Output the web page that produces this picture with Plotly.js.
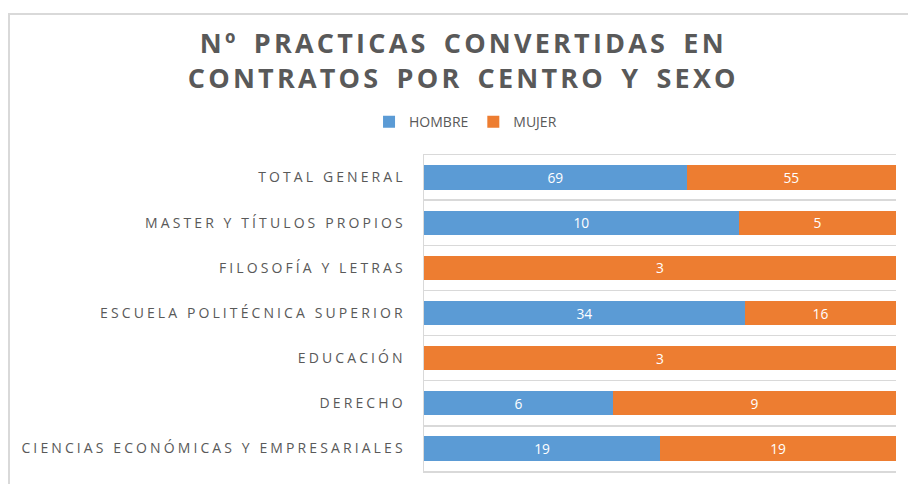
<!DOCTYPE html>
<html>
<head>
<meta charset="utf-8">
<script src="https://cdn.plot.ly/plotly-3.0.1.min.js"></script>
<style>
  body { margin: 0; padding: 0; background: #ffffff; overflow: hidden; }
  #frame { position: absolute; left: 8px; top: 13px; width: 940px; height: 520px;
           border: 2px solid #d9d9d9; box-sizing: border-box; }
  #chart { position: absolute; left: 0; top: 0; width: 908px; height: 484px; }
  #chart .annotation-text { letter-spacing: 3.2px; word-spacing: 5px; }
  #chart .ytick text { letter-spacing: 3.1px; }
</style>
</head>
<body>
<div id="frame"></div>
<div id="chart"></div>
<script>
"use strict"

// categories, bottom to top as drawn
var centros = [
	'CIENCIAS ECONÓMICAS Y EMPRESARIALES',
	'DERECHO',
	'EDUCACIÓN',
	'ESCUELA POLITÉCNICA SUPERIOR',
	'FILOSOFÍA Y LETRAS',
	'MASTER Y TÍTULOS PROPIOS',
	'TOTAL GENERAL'
];
var hombre = [19, 6, 0, 34, 0, 10, 69];
var mujer = [19, 9, 3, 16, 3, 5, 55];
var titulo = ['Nº PRACTICAS CONVERTIDAS EN', 'CONTRATOS POR CENTRO Y SEXO'];

function labels(vals){
	return vals.map(function(v){ return v > 0 ? String(v) : ''; });
}

var fontFamily = '"Open Sans", "Liberation Sans", sans-serif';

function serie(name, vals, color){
	return {
		type: 'bar',
		orientation: 'h',
		name: name,
		y: centros,
		x: vals,
		marker: {color: color, line: {width: 0}},
		text: labels(vals),
		texttemplate: '%{text}',
		textposition: 'inside',
		insidetextanchor: 'middle',
		textangle: 0,
		textfont: {family: fontFamily, size: 15, color: '#ffffff'},
		hoverinfo: 'x+y+name'
	};
}

var data = [
	serie('HOMBRE', hombre, '#5b9bd5'),
	serie('MUJER', mujer, '#ed7d31')
];

var layout = {
	width: 908,
	height: 484,
	margin: {l: 424, r: 12, t: 155, b: 13, pad: 0},
	paper_bgcolor: 'rgba(0,0,0,0)',
	plot_bgcolor: 'rgba(0,0,0,0)',
	font: {family: fontFamily, color: '#595959'},
	// title as an annotation so the letter spacing can be styled
	annotations: [{
		text: titulo.join('<br>'),
		xref: 'paper', yref: 'paper',
		x: 0.083, y: 1.3,
		xanchor: 'center', yanchor: 'middle',
		showarrow: false,
		font: {family: fontFamily, size: 27, color: '#595959', weight: 'bold'}
	}],
	barmode: 'stack',
	barnorm: 'percent',
	bargap: 0.46,
	showlegend: true,
	legend: {
		orientation: 'h',
		x: 0.088,
		xanchor: 'center',
		y: 1.104,
		yanchor: 'middle',
		font: {family: fontFamily, size: 14, color: '#595959'},
		itemwidth: 30,
		traceorder: 'normal'
	},
	xaxis: {
		range: [0, 100],
		showticklabels: false,
		ticks: '',
		showgrid: false,
		zeroline: false,
		showline: true,
		mirror: true,
		linecolor: '#d9d9d9',
		linewidth: 1.5,
		fixedrange: true
	},
	yaxis: {
		type: 'category',
		range: [-0.5, 6.5],
		tickson: 'boundaries',
		ticks: '',
		showgrid: true,
		gridcolor: '#d9d9d9',
		gridwidth: 1.5,
		showline: true,
		linecolor: '#d9d9d9',
		linewidth: 1.5,
		ticklabelstandoff: 14,
		tickfont: {family: fontFamily, size: 14, color: '#595959'},
		automargin: false,
		fixedrange: true
	}
};

Plotly.newPlot('chart', data, layout, {displayModeBar: false, staticPlot: true});
</script>
</body>
</html>
